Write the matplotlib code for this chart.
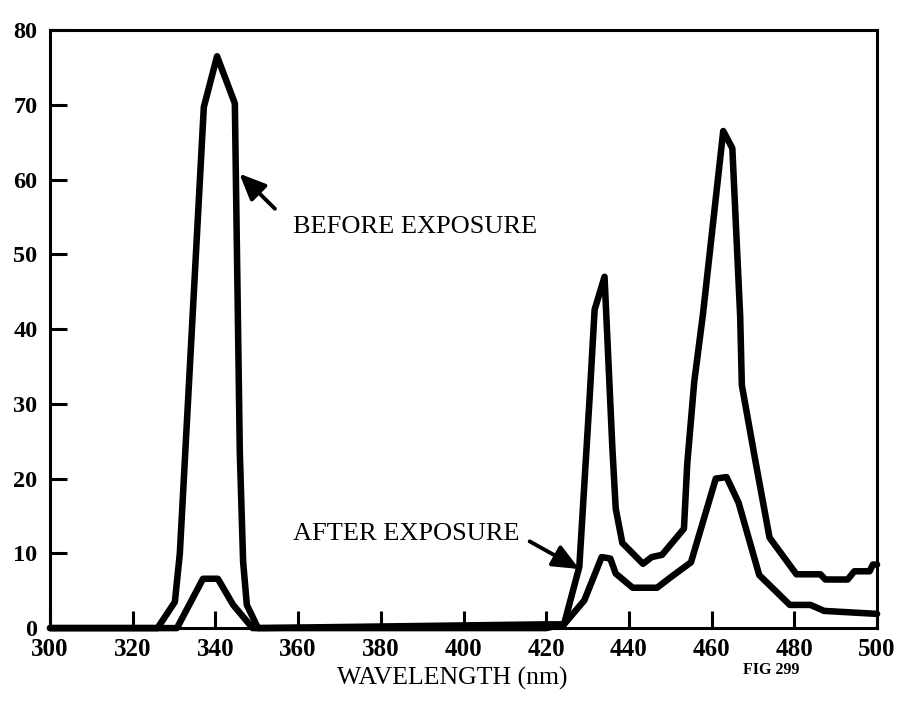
import matplotlib
matplotlib.use("Agg")
import matplotlib.pyplot as plt

# ---- data ----
before_x = [300, 326, 330.2, 331.4, 337.2, 340.4, 344.7, 345.9, 346.7, 347.6, 350.3,
            420, 424.3, 428, 430.5, 431.7, 434.1, 436.0, 436.8, 438.4, 443.4, 445.5,
            448, 453.3, 454.1, 455.8, 457.9, 462.8, 465, 466.9, 467.3, 470.6, 474,
            480.5, 486.3, 487.5, 492.9, 494.5, 498.2, 499, 500]
before_y = [0, 0, 3.5, 10, 69.7, 76.5, 70.2, 23.6, 8.9, 3.1, 0,
            0.5, 0.5, 8.2, 30.9, 42.6, 47, 24, 16, 11.4, 8.6, 9.5,
            9.8, 13.3, 22, 33, 42, 66.5, 64.2, 41.7, 32.5, 22.3, 12.1,
            7.2, 7.2, 6.5, 6.5, 7.6, 7.6, 8.5, 8.5]

after_x = [300, 330.7, 337, 340.6, 344.3, 349, 420, 424.3, 429.2, 433.4, 435.5,
           436.8, 440.9, 446.8, 450.1, 455, 461, 463.6, 466.5, 471.5, 478.9,
           483.9, 487.2, 500]
after_y = [0, 0, 6.6, 6.6, 3.1, 0, 0, 0.5, 3.7, 9.5, 9.3,
           7.3, 5.4, 5.4, 6.8, 8.8, 20, 20.2, 16.8, 7.1, 3.1,
           3.1, 2.3, 1.9]

x_ticks = [300, 320, 340, 360, 380, 400, 420, 440, 460, 480, 500]
y_ticks = [0, 10, 20, 30, 40, 50, 60, 70, 80]

label_before = "BEFORE EXPOSURE"
label_after = "AFTER EXPOSURE"
x_title = "WAVELENGTH (nm)"
fig_label = "FIG 299"

# ---- figure ----
serif = ["Liberation Serif", "DejaVu Serif"]
plt.rcParams["font.family"] = serif

fig = plt.figure(figsize=(8.99, 7.17), dpi=100)
ax = fig.add_axes([0.0556, 0.124, 0.92, 0.834])

ax.plot(before_x, before_y, color="black", lw=4.7, solid_joinstyle="round",
        solid_capstyle="round", clip_on=False, zorder=3)
ax.plot(after_x, after_y, color="black", lw=4.7, solid_joinstyle="round",
        solid_capstyle="round", clip_on=False, zorder=3)

ax.set_xlim(300, 500)
ax.set_ylim(0, 80)
ax.set_xticks(x_ticks)
ax.set_yticks(y_ticks)
ax.set_xticklabels([str(v) for v in x_ticks], fontsize=18, fontweight="bold")
ax.set_yticklabels([str(v) for v in y_ticks], fontsize=17.5, fontweight="bold")
ax.tick_params(axis="both", direction="in", length=12, width=2.2, colors="black")
ax.tick_params(axis="x", pad=7)
ax.tick_params(axis="y", pad=9)
for s in ax.spines.values():
    s.set_linewidth(2.2)
    s.set_color("black")

arrow_kw = dict(arrowstyle="-|>,head_length=0.8,head_width=0.35",
                lw=2.8, color="black", mutation_scale=20, shrinkA=0, shrinkB=0)

ax.annotate("", xy=(345.8, 60.8), xytext=(354.4, 56.1), arrowprops=arrow_kw)
ax.text(358.8, 53.7, label_before, fontsize=19, va="center", ha="left")

ax.annotate("", xy=(428, 7.9), xytext=(416, 11.6), arrowprops=arrow_kw)
ax.text(358.8, 12.6, label_after, fontsize=19, va="center", ha="left")

fig.text(0.503, 0.054, x_title, fontsize=18.5, ha="center", va="center")
fig.text(0.858, 0.065, fig_label, fontsize=11.5, fontweight="bold", ha="center", va="center")

fig.savefig("out.png", dpi=100, facecolor="white")
